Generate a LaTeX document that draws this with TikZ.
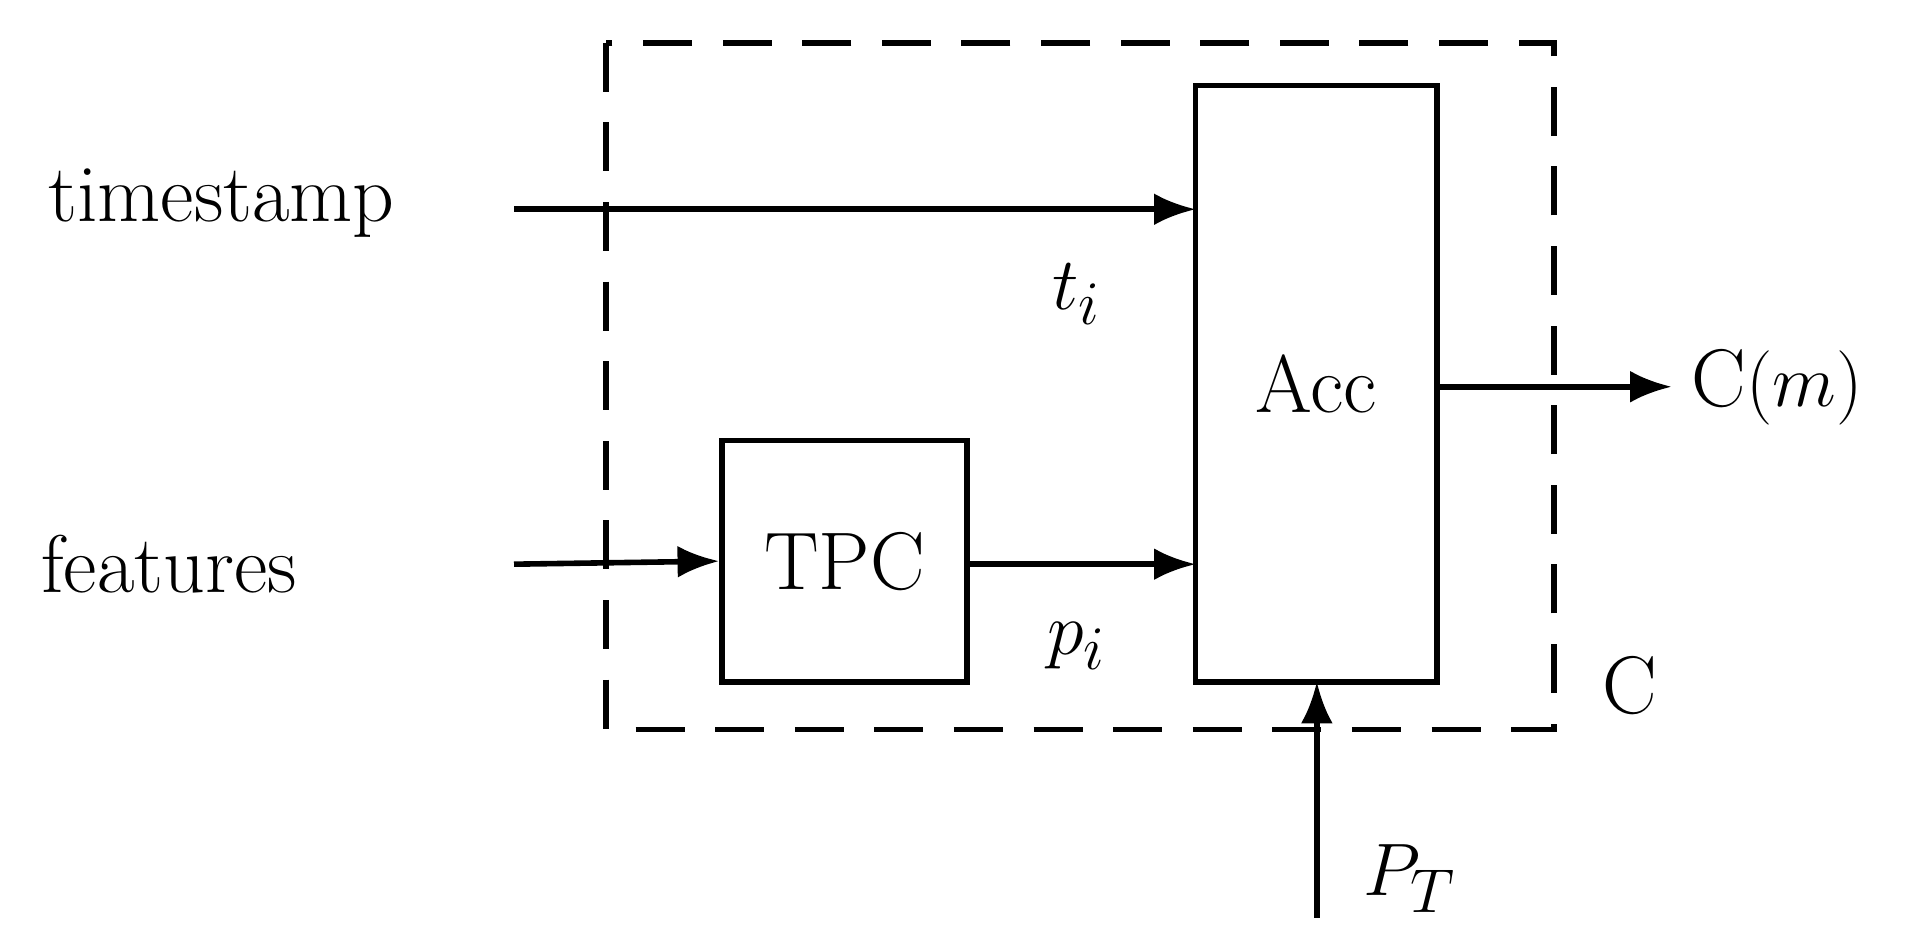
\documentclass[tikz,border=0pt]{standalone}
\usetikzlibrary{arrows.meta}
\begin{document}
\begin{tikzpicture}[x=0.01cm,y=-0.01cm,
  every node/.style={font=\fontsize{19}{22}\selectfont},
  box/.style={draw,line width=1.3pt,inner sep=0pt},
  arr/.style={line width=1.3pt,-{Latex[length=3.4mm,width=2.6mm]}}]
\useasboundingbox (0,0) rectangle (1568,773);
\draw[line width=1.3pt,dash pattern=on 4mm off 2.5mm] (495,35) rectangle (1270,596);
\node[box,minimum width=1.97cm,minimum height=4.87cm] (acc) at (1075.5,313.5) {Acc};
\node[box,minimum width=2.0cm,minimum height=1.97cm] (tpc) at (690,458.5) {TPC};
\node[anchor=east] (ts) at (335,166) {timestamp};
\node[anchor=east] (ft) at (255,461) {features};
\coordinate (tsS) at (420,171);
\coordinate (ftS) at (420,461);
\coordinate (accT) at (977,171);
\coordinate (accF) at (977,461);
\coordinate (accO) at (1174,316);
\coordinate (outE) at (1366,316);
\coordinate (ptS) at (1076,750);
\coordinate (accB) at (1076,557);
\draw[arr] (tsS) -- (accT);
\draw[arr] (ftS) -- (tpc.west);
\draw[arr] (tpc.east |- accF) -- (accF);
\draw[arr] (accO) -- (outE);
\draw[arr] (ptS) -- (accB);
\node[anchor=west] (cm) at (1370,316) {C$(m)$};
\node (ti) at (880,240) {$t_i$};
\node (pi) at (880,528) {$p_i$};
\node (c) at (1332,560) {C};
\node (pt) at (1152,718) {$P_T$};
\end{tikzpicture}
\end{document}
